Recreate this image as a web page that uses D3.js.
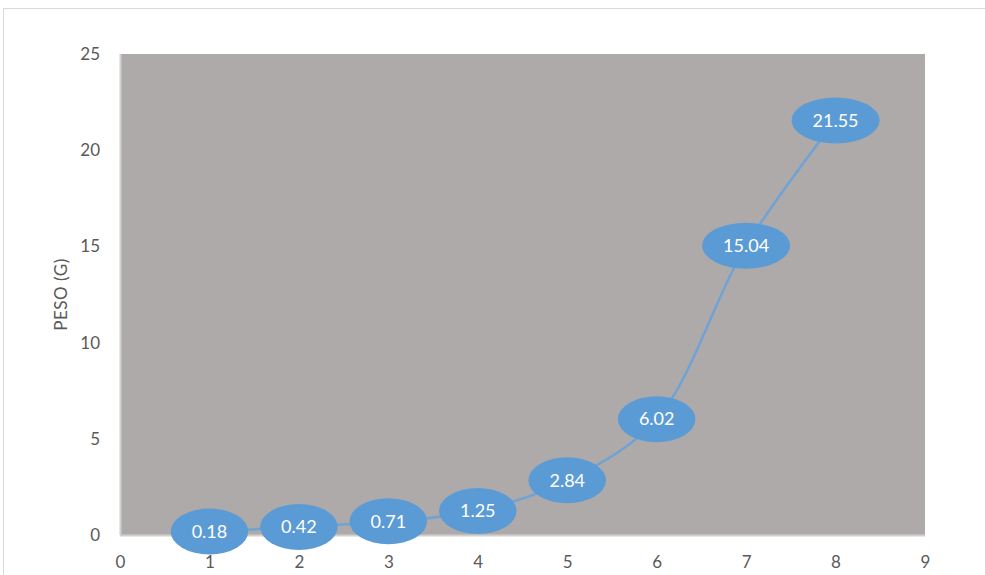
<!DOCTYPE html>
<html>
<head>
<meta charset="utf-8">
<title>Peso</title>
<script src="https://d3js.org/d3.v7.min.js"></script>
<style>
body { margin: 0; background: #fff; }
text { font-family: "Lato", "Open Sans", sans-serif; }
</style>
</head>
<body>
<div id="container"></div>
<script>
// data
var xValues = [1, 2, 3, 4, 5, 6, 7, 8];
var pesoValues = [0.18, 0.42, 0.71, 1.25, 2.84, 6.02, 15.04, 21.55];
var xTicks = [0, 1, 2, 3, 4, 5, 6, 7, 8, 9];
var yTicks = [0, 5, 10, 15, 20, 25];

var width = 985, height = 575;
var plot = {left: 120, right: 925, top: 54, bottom: 535};

var svg = d3.select("#container").append("svg")
	.attr("width", width)
	.attr("height", height);

// outer chart border
svg.append("rect")
	.attr("x", 3.5).attr("y", 8.5)
	.attr("width", width + 10).attr("height", height + 10)
	.attr("fill", "none")
	.attr("stroke", "#d9d9d9");

var x = d3.scaleLinear().domain([0, 9]).range([plot.left, plot.right]);
var y = d3.scaleLinear().domain([0, 25]).range([plot.bottom, plot.top]);

// plot area
svg.append("rect")
	.attr("x", plot.left).attr("y", plot.top)
	.attr("width", plot.right - plot.left)
	.attr("height", plot.bottom - plot.top)
	.attr("fill", "#aeaaa9");

// axis lines
svg.append("line")
	.attr("x1", plot.left + 0.5).attr("x2", plot.left + 0.5)
	.attr("y1", plot.top).attr("y2", plot.bottom)
	.attr("stroke", "#d0d0d0").attr("stroke-width", 2);
svg.append("line")
	.attr("x1", plot.left).attr("x2", plot.right)
	.attr("y1", plot.bottom + 0.5).attr("y2", plot.bottom + 0.5)
	.attr("stroke", "#d0d0d0").attr("stroke-width", 2);

// tick labels
var xAxis = svg.append("g")
	.attr("transform", "translate(0," + (plot.bottom + 27) + ")")
	.call(d3.axisBottom(x).tickValues(xTicks).tickSize(0).tickPadding(0));
xAxis.select(".domain").remove();
xAxis.selectAll("text")
	.attr("dy", "0.35em")
	.attr("fill", "#595959")
	.style("font-size", "17px")
	.style("font-family", "Lato, sans-serif");

var yAxis = svg.append("g")
	.attr("transform", "translate(" + (plot.left - 20) + ",0)")
	.call(d3.axisLeft(y).tickValues(yTicks).tickSize(0).tickPadding(0));
yAxis.select(".domain").remove();
yAxis.selectAll("text")
	.attr("fill", "#595959")
	.style("font-size", "17px")
	.style("font-family", "Lato, sans-serif");

// axis title
svg.append("text")
	.attr("transform", "translate(67," + ((plot.top + plot.bottom) / 2) + ") rotate(-90)")
	.attr("text-anchor", "middle")
	.attr("fill", "#595959")
	.style("font-size", "17px")
	.style("letter-spacing", "0.5px")
	.text("PESO (G)");

// smooth line
var line = d3.line()
	.x(function(d, i) { return x(xValues[i]); })
	.y(function(d) { return y(d); })
	.curve(d3.curveCatmullRom.alpha(0.5));

svg.append("path")
	.datum(pesoValues)
	.attr("d", line)
	.attr("fill", "none")
	.attr("stroke", "#6fa3d6")
	.attr("stroke-width", 2.5);

// ellipse data labels
var labels = svg.selectAll(".lbl")
	.data(pesoValues)
	.enter().append("g")
	.attr("class", "lbl")
	.attr("transform", function(d, i) {
		return "translate(" + x(xValues[i]) + "," + y(d) + ")";
	});

var ell = labels.append("ellipse")
	.attr("ry", 23)
	.attr("fill", "#5b9bd5");

labels.append("text")
	.attr("text-anchor", "middle")
	.attr("dy", "0.35em")
	.attr("fill", "#ffffff")
	.style("font-size", "18px")
	.text(function(d) { return d.toFixed(2); });

// ellipse width follows the label length
ell.attr("rx", function() {
	var t = d3.select(this.parentNode).select("text").node();
	return t.getComputedTextLength() / 2 + 21;
});
</script>
</body>
</html>
